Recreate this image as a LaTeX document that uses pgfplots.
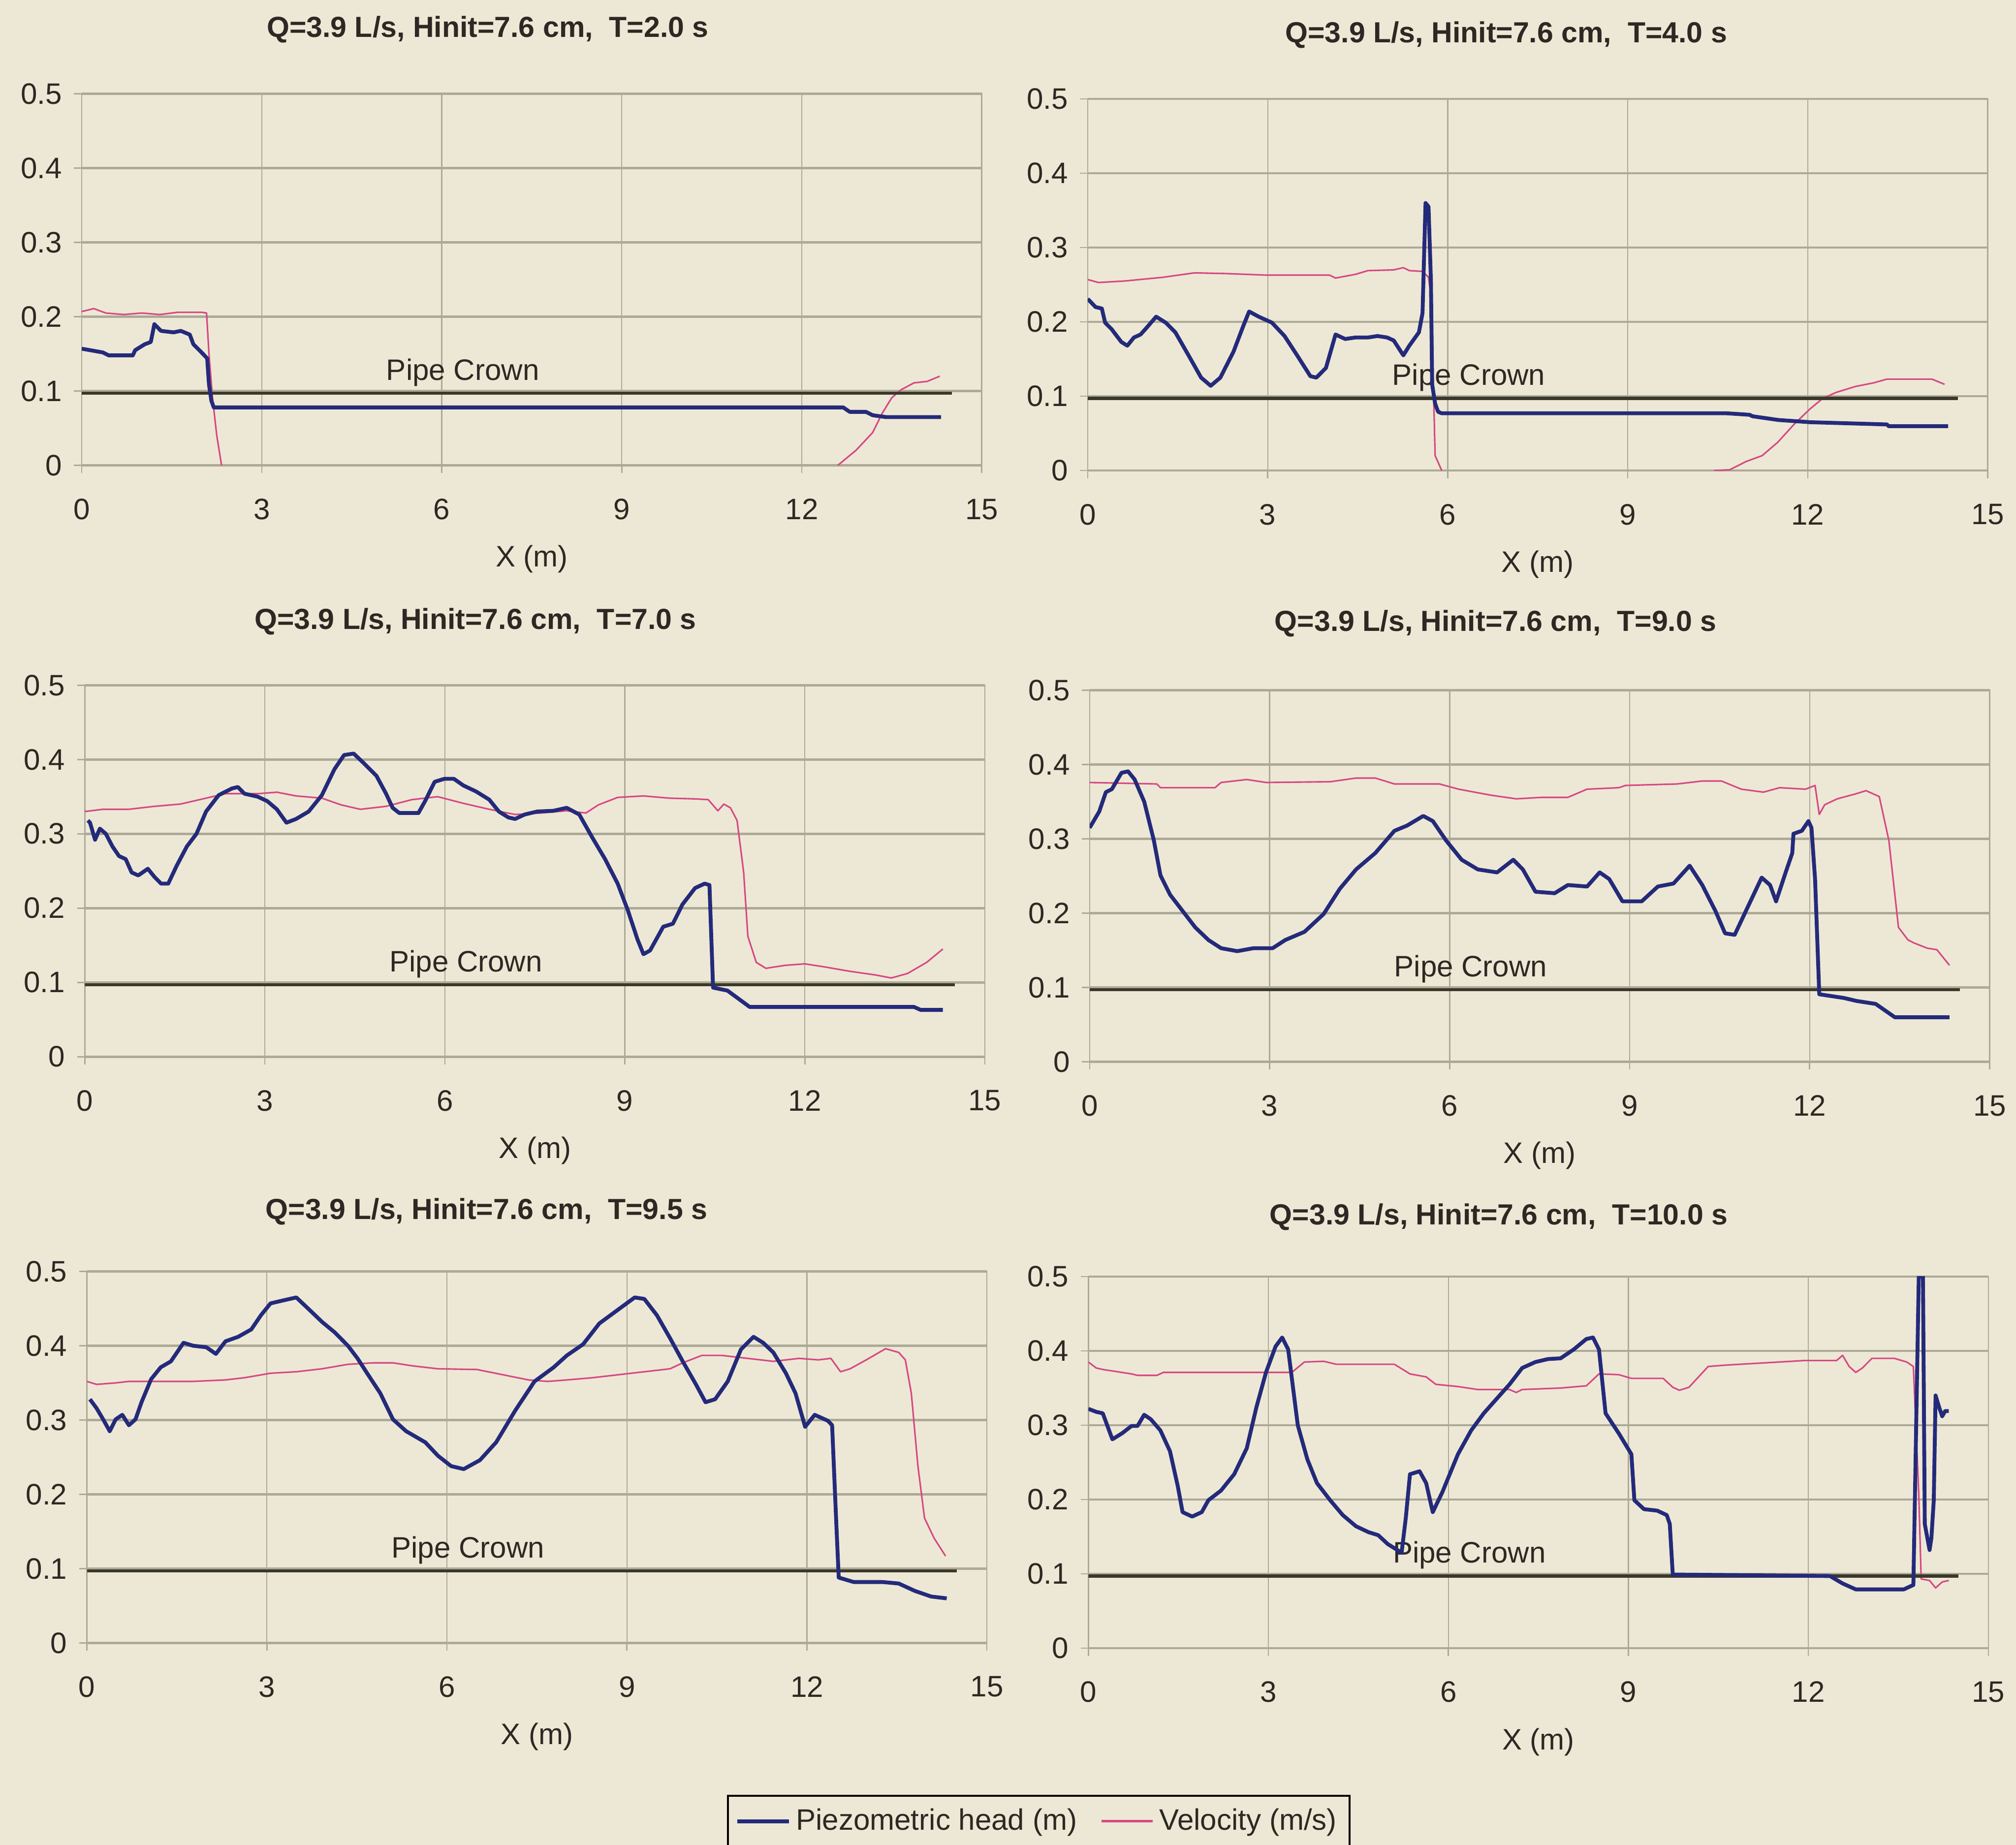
\documentclass[border=0pt]{standalone}
\usepackage{fontspec}
\setmainfont{Liberation Sans}
\usepackage{pgfplots}
\pgfplotsset{compat=1.18}
\definecolor{bg}{RGB}{237,232,213}
\definecolor{headc}{RGB}{36,42,122}
\definecolor{velc}{RGB}{214,72,132}
\definecolor{crownc}{RGB}{58,56,42}
\definecolor{gridc}{RGB}{172,169,150}
\definecolor{txtc}{RGB}{45,40,35}
\newcommand{\tf}{\fontsize{11.5}{13}\selectfont}
\pgfplotsset{
  headline/.style={headc, line width=1.5pt, line join=round},
  velline/.style={velc, line width=0.6pt, line join=round},
  panel/.style={
    scale only axis, width=350pt, height=144.5pt, anchor=south west,
    xmin=0, xmax=15, ymin=0, ymax=0.5,
    xtick={0,3,6,9,12,15}, ytick={0,0.1,0.2,0.3,0.4,0.5},
    yticklabels={0,0.1,0.2,0.3,0.4,0.5},
    xtick pos=bottom, ytick pos=left,
    tick align=outside, major tick length=3pt,
    tick style={gridc, line width=0.5pt},
    xmajorgrids, ymajorgrids,
    x grid style={gridc, line width=0.45pt},
    y grid style={gridc, line width=0.9pt},
    axis line style={gridc, line width=0.5pt},
    /pgf/number format/assume math mode=true,
    ticklabel style={font=\tf, text=txtc},
    yticklabel style={xshift=-1.2pt},
    xticklabel style={yshift=-6.5pt},
    xlabel={X (m)},
    xlabel style={font=\tf, text=txtc, at={(axis description cs:0.5,0)}, anchor=center, yshift=-36.5pt},
    title style={font=\bfseries\fontsize{11.3}{13}\selectfont, text=txtc, anchor=center},
  },
  legend image code/.code={\draw[#1] (0pt,0pt) -- (20pt,0pt);},
}
\newcommand{\crown}{%
  \addplot[crownc, line width=1.2pt, forget plot] coordinates {(0,0.097) (14.5,0.097)};
  \node[font=\tf, text=txtc] at (axis cs:6.35,0.125) {Pipe Crown};}
\begin{document}
\begin{tikzpicture}
\path[use as bounding box, fill=bg] (0,0) rectangle (784pt,717.5pt);

% ---------- T = 2.0 s ----------
\begin{axis}[panel, at={(31.8pt,536.5pt)},
  title={Q=3.9 L/s, Hinit=7.6 cm,~ T=2.0 s},
  title style={at={(axis description cs:0.451,1)}, yshift=19pt}]
\addplot[velline, forget plot] coordinates {(0,0.207)(0.2,0.211)(0.4,0.205)(0.7,0.203)(1.0,0.205)(1.3,0.203)(1.6,0.206)(2.0,0.206)(2.08,0.205)(2.12,0.15)(2.18,0.09)(2.25,0.04)(2.33,0.0)};
\addplot[velline, forget plot] coordinates {(12.6,0)(12.9,0.02)(13.18,0.044)(13.34,0.07)(13.5,0.091)(13.66,0.102)(13.87,0.111)(14.09,0.113)(14.3,0.12)};
\crown
\addplot[headline, forget plot] coordinates {(0,0.157)(0.35,0.152)(0.45,0.148)(0.85,0.148)(0.89,0.155)(1.05,0.163)(1.15,0.166)(1.21,0.19)(1.32,0.181)(1.53,0.179)(1.65,0.181)(1.8,0.176)(1.86,0.163)(2.02,0.15)(2.09,0.144)(2.12,0.109)(2.16,0.087)(2.2,0.078)(12.69,0.078)(12.8,0.072)(13.07,0.072)(13.18,0.0675)(13.4,0.065)(14.32,0.065)};
\end{axis}

% ---------- T = 4.0 s ----------
\begin{axis}[panel, at={(423pt,534.5pt)},
  title={Q=3.9 L/s, Hinit=7.6 cm,~ T=4.0 s},
  title style={at={(axis description cs:0.465,1)}, yshift=19pt}]
\addplot[velline, forget plot] coordinates {(0,0.257)(0.18,0.253)(0.61,0.255)(1.25,0.26)(1.78,0.266)(2.32,0.265)(2.96,0.263)(4.03,0.263)(4.13,0.259)(4.46,0.264)(4.67,0.269)(5.1,0.27)(5.26,0.273)(5.36,0.269)(5.58,0.268)(5.68,0.26)(5.74,0.225)(5.76,0.116)(5.79,0.02)(5.9,0.0)};
\addplot[velline, forget plot] coordinates {(10.44,0)(10.7,0.001)(10.97,0.012)(11.24,0.02)(11.5,0.038)(11.77,0.062)(12.04,0.083)(12.25,0.097)(12.47,0.105)(12.79,0.113)(13.1,0.118)(13.32,0.123)(13.64,0.123)(14.07,0.123)(14.28,0.116)};
\crown
\addplot[headline, forget plot] coordinates {(0,0.231)(0.13,0.22)(0.235,0.218)(0.29,0.199)(0.4,0.19)(0.56,0.173)(0.66,0.168)(0.77,0.179)(0.88,0.183)(0.98,0.192)(1.14,0.207)(1.3,0.199)(1.46,0.186)(1.68,0.155)(1.89,0.125)(2.05,0.114)(2.21,0.125)(2.43,0.16)(2.59,0.194)(2.69,0.214)(2.85,0.207)(3.07,0.199)(3.28,0.181)(3.49,0.155)(3.71,0.127)(3.81,0.125)(3.97,0.138)(4.13,0.183)(4.29,0.177)(4.46,0.179)(4.67,0.179)(4.83,0.181)(4.99,0.179)(5.1,0.175)(5.26,0.155)(5.36,0.168)(5.52,0.186)(5.58,0.212)(5.63,0.36)(5.68,0.355)(5.72,0.255)(5.74,0.116)(5.79,0.09)(5.84,0.079)(5.9,0.077)(10.65,0.077)(11.03,0.075)(11.08,0.073)(11.51,0.068)(12.04,0.065)(13.32,0.062)(13.35,0.0596)(14.34,0.0596)};
\end{axis}

% ---------- T = 7.0 s ----------
\begin{axis}[panel, at={(33pt,306.5pt)},
  title={Q=3.9 L/s, Hinit=7.6 cm,~ T=7.0 s},
  title style={at={(axis description cs:0.434,1)}, yshift=18.75pt}]
\addplot[velline, forget plot] coordinates {(0,0.33)(0.3,0.333)(0.73,0.333)(1.16,0.337)(1.59,0.34)(2.02,0.348)(2.34,0.354)(2.88,0.354)(3.2,0.356)(3.52,0.351)(3.95,0.348)(4.27,0.339)(4.59,0.333)(5.02,0.337)(5.45,0.346)(5.88,0.35)(6.31,0.341)(6.74,0.333)(7.17,0.326)(7.6,0.328)(8.03,0.331)(8.35,0.328)(8.56,0.339)(8.88,0.349)(9.31,0.351)(9.74,0.348)(10.17,0.347)(10.39,0.346)(10.55,0.331)(10.65,0.34)(10.76,0.335)(10.87,0.318)(10.98,0.248)(11.05,0.162)(11.19,0.127)(11.35,0.119)(11.67,0.123)(12.0,0.125)(12.32,0.121)(12.75,0.115)(13.18,0.11)(13.44,0.106)(13.71,0.112)(14.03,0.127)(14.3,0.145)};
\crown
\addplot[headline, forget plot] coordinates {(0.05,0.318)(0.086,0.315)(0.17,0.292)(0.25,0.307)(0.35,0.3)(0.46,0.283)(0.57,0.27)(0.68,0.266)(0.78,0.248)(0.89,0.244)(1.05,0.253)(1.16,0.242)(1.27,0.233)(1.39,0.233)(1.53,0.257)(1.7,0.283)(1.86,0.3)(2.02,0.33)(2.23,0.352)(2.45,0.361)(2.55,0.363)(2.66,0.354)(2.88,0.35)(3.04,0.344)(3.2,0.333)(3.36,0.315)(3.52,0.32)(3.73,0.33)(3.95,0.352)(4.16,0.387)(4.32,0.406)(4.48,0.408)(4.65,0.395)(4.86,0.378)(5.02,0.354)(5.13,0.335)(5.24,0.328)(5.56,0.328)(5.67,0.344)(5.83,0.37)(5.99,0.374)(6.15,0.374)(6.31,0.365)(6.52,0.357)(6.74,0.346)(6.9,0.33)(7.06,0.322)(7.17,0.32)(7.33,0.326)(7.54,0.33)(7.81,0.331)(8.03,0.335)(8.24,0.326)(8.45,0.296)(8.67,0.266)(8.88,0.233)(9.05,0.197)(9.21,0.158)(9.31,0.138)(9.42,0.143)(9.64,0.175)(9.8,0.179)(9.96,0.205)(10.17,0.227)(10.33,0.233)(10.41,0.231)(10.44,0.162)(10.47,0.093)(10.71,0.089)(11.08,0.067)(13.82,0.067)(13.93,0.063)(14.3,0.063)};
\end{axis}

% ---------- T = 9.0 s ----------
\begin{axis}[panel, at={(423.75pt,304.5pt)},
  title={Q=3.9 L/s, Hinit=7.6 cm,~ T=9.0 s},
  title style={at={(axis description cs:0.451,1)}, yshift=20pt}]
\addplot[velline, forget plot] coordinates {(0,0.376)(1.12,0.374)(1.18,0.369)(2.09,0.369)(2.19,0.376)(2.62,0.38)(2.94,0.376)(4.01,0.377)(4.44,0.382)(4.76,0.382)(5.08,0.374)(5.83,0.374)(6.15,0.367)(6.68,0.359)(7.11,0.354)(7.54,0.356)(7.97,0.356)(8.29,0.367)(8.82,0.369)(8.93,0.372)(9.79,0.374)(10.21,0.378)(10.53,0.378)(10.86,0.367)(11.23,0.363)(11.5,0.369)(11.93,0.367)(12.09,0.372)(12.16,0.333)(12.25,0.346)(12.46,0.354)(12.78,0.361)(12.94,0.365)(13.16,0.357)(13.32,0.298)(13.48,0.181)(13.64,0.164)(13.74,0.16)(13.96,0.153)(14.12,0.151)(14.33,0.13)};
\crown
\addplot[headline, forget plot] coordinates {(0,0.315)(0.16,0.337)(0.27,0.363)(0.37,0.367)(0.53,0.389)(0.64,0.391)(0.75,0.38)(0.91,0.35)(1.07,0.298)(1.18,0.251)(1.34,0.225)(1.55,0.203)(1.76,0.181)(1.98,0.164)(2.19,0.153)(2.46,0.149)(2.73,0.153)(3.05,0.153)(3.26,0.164)(3.58,0.175)(3.9,0.199)(4.17,0.233)(4.44,0.259)(4.76,0.281)(5.08,0.311)(5.29,0.318)(5.56,0.331)(5.72,0.324)(5.94,0.298)(6.2,0.272)(6.47,0.259)(6.79,0.255)(7.06,0.272)(7.22,0.259)(7.43,0.229)(7.75,0.227)(7.97,0.238)(8.29,0.236)(8.5,0.255)(8.66,0.246)(8.88,0.216)(9.2,0.216)(9.47,0.236)(9.73,0.24)(10.0,0.264)(10.21,0.238)(10.43,0.203)(10.59,0.173)(10.75,0.171)(10.96,0.207)(11.2,0.248)(11.34,0.238)(11.44,0.216)(11.6,0.255)(11.71,0.281)(11.73,0.307)(11.87,0.311)(11.98,0.324)(12.03,0.315)(12.09,0.246)(12.16,0.091)(12.57,0.086)(12.78,0.082)(13.1,0.078)(13.42,0.06)(14.33,0.06)};
\end{axis}

% ---------- T = 9.5 s ----------
\begin{axis}[panel, at={(33.8pt,78.5pt)},
  title={Q=3.9 L/s, Hinit=7.6 cm,~ T=9.5 s},
  title style={at={(axis description cs:0.444,1)}, yshift=17.2pt},
  legend columns=2,
  legend style={at={(axis description cs:0.711,-0.4086)}, anchor=north west,
    draw=black, line width=0.8pt, fill=bg, font=\tf, text=txtc,
    inner xsep=3pt, inner ysep=3pt,
    /tikz/every even column/.append style={column sep=7pt}},
  legend cell align=left]
\addlegendimage{headc, line width=1.5pt}
\addlegendentry{Piezometric head (m)}
\addlegendimage{velc, line width=1pt}
\addlegendentry{Velocity (m/s)}
\addplot[velline, forget plot] coordinates {(0,0.352)(0.16,0.348)(0.48,0.35)(0.7,0.352)(1.34,0.352)(1.77,0.352)(2.31,0.354)(2.63,0.357)(3.06,0.363)(3.49,0.365)(3.92,0.369)(4.35,0.375)(4.78,0.377)(5.1,0.377)(5.42,0.373)(5.85,0.369)(6.5,0.368)(6.93,0.361)(7.36,0.354)(7.68,0.352)(8.0,0.354)(8.43,0.357)(8.86,0.361)(9.29,0.365)(9.72,0.369)(9.93,0.377)(10.25,0.387)(10.58,0.387)(11.01,0.383)(11.44,0.379)(11.87,0.383)(12.19,0.381)(12.4,0.383)(12.56,0.365)(12.72,0.369)(12.99,0.381)(13.31,0.396)(13.53,0.391)(13.64,0.381)(13.74,0.336)(13.85,0.238)(13.96,0.168)(14.12,0.141)(14.31,0.117)};
\crown
\addplot[headline, forget plot] coordinates {(0.05,0.328)(0.16,0.316)(0.27,0.301)(0.38,0.285)(0.48,0.301)(0.59,0.307)(0.7,0.293)(0.81,0.301)(0.91,0.324)(1.07,0.355)(1.23,0.371)(1.4,0.379)(1.61,0.404)(1.77,0.4)(1.99,0.398)(2.15,0.389)(2.31,0.406)(2.52,0.412)(2.74,0.422)(2.9,0.441)(3.06,0.457)(3.27,0.461)(3.49,0.465)(3.7,0.449)(3.92,0.432)(4.13,0.418)(4.35,0.4)(4.51,0.383)(4.67,0.363)(4.89,0.336)(5.1,0.301)(5.32,0.285)(5.64,0.27)(5.85,0.252)(6.07,0.238)(6.28,0.234)(6.55,0.246)(6.82,0.27)(7.14,0.313)(7.46,0.352)(7.78,0.371)(8.0,0.387)(8.27,0.402)(8.54,0.43)(8.86,0.449)(9.13,0.465)(9.29,0.463)(9.5,0.441)(9.72,0.41)(9.93,0.379)(10.15,0.348)(10.31,0.324)(10.47,0.328)(10.68,0.352)(10.9,0.395)(11.11,0.412)(11.27,0.404)(11.44,0.391)(11.65,0.363)(11.81,0.336)(11.97,0.291)(12.13,0.307)(12.35,0.299)(12.42,0.293)(12.49,0.16)(12.53,0.088)(12.78,0.082)(13.26,0.082)(13.53,0.08)(13.8,0.07)(14.07,0.0625)(14.33,0.06)};
\end{axis}

% ---------- T = 10.0 s ----------
\begin{axis}[panel, at={(423.25pt,76.5pt)},
  title={Q=3.9 L/s, Hinit=7.6 cm,~ T=10.0 s},
  title style={at={(axis description cs:0.456,1)}, yshift=17.15pt}]
\addplot[velline, forget plot] coordinates {(0,0.385)(0.13,0.377)(0.24,0.375)(0.4,0.373)(0.72,0.369)(0.82,0.367)(1.14,0.367)(1.25,0.371)(3.39,0.371)(3.6,0.385)(3.92,0.386)(4.13,0.382)(5.1,0.382)(5.36,0.369)(5.63,0.365)(5.79,0.355)(6.16,0.352)(6.49,0.348)(7.02,0.348)(7.13,0.344)(7.23,0.348)(7.87,0.35)(8.3,0.353)(8.51,0.369)(8.84,0.368)(9.05,0.363)(9.58,0.363)(9.74,0.351)(9.85,0.347)(10.01,0.351)(10.33,0.379)(10.65,0.381)(11.08,0.383)(11.51,0.385)(11.93,0.387)(12.47,0.387)(12.57,0.394)(12.68,0.379)(12.79,0.371)(12.9,0.377)(13.06,0.39)(13.43,0.39)(13.64,0.385)(13.75,0.379)(13.77,0.34)(13.84,0.207)(13.88,0.093)(14.02,0.091)(14.12,0.081)(14.23,0.089)(14.34,0.091)};
\crown
\addplot[headline, forget plot] coordinates {(0,0.322)(0.13,0.318)(0.24,0.316)(0.4,0.281)(0.56,0.289)(0.72,0.299)(0.82,0.299)(0.93,0.314)(1.04,0.308)(1.2,0.293)(1.36,0.265)(1.49,0.218)(1.57,0.183)(1.73,0.177)(1.89,0.183)(2.0,0.199)(2.21,0.212)(2.43,0.234)(2.64,0.269)(2.8,0.324)(2.96,0.371)(3.12,0.406)(3.23,0.418)(3.33,0.402)(3.49,0.3)(3.65,0.254)(3.81,0.222)(4.03,0.199)(4.24,0.179)(4.46,0.164)(4.67,0.156)(4.83,0.152)(4.99,0.14)(5.15,0.132)(5.22,0.128)(5.29,0.175)(5.36,0.234)(5.52,0.238)(5.63,0.222)(5.74,0.183)(5.9,0.21)(6.16,0.261)(6.38,0.293)(6.59,0.316)(6.81,0.336)(7.02,0.355)(7.23,0.377)(7.45,0.385)(7.66,0.389)(7.87,0.39)(8.09,0.402)(8.3,0.416)(8.41,0.418)(8.51,0.402)(8.62,0.316)(8.84,0.289)(9.05,0.261)(9.1,0.199)(9.26,0.187)(9.48,0.185)(9.64,0.179)(9.69,0.167)(9.74,0.099)(12.36,0.097)(12.57,0.087)(12.79,0.079)(13.59,0.079)(13.75,0.085)(13.84,0.5)(13.91,0.5)(13.94,0.167)(14.02,0.132)(14.05,0.148)(14.09,0.199)(14.12,0.34)(14.18,0.324)(14.23,0.312)(14.28,0.319)(14.34,0.319)};
\end{axis}
\end{tikzpicture}
\end{document}
